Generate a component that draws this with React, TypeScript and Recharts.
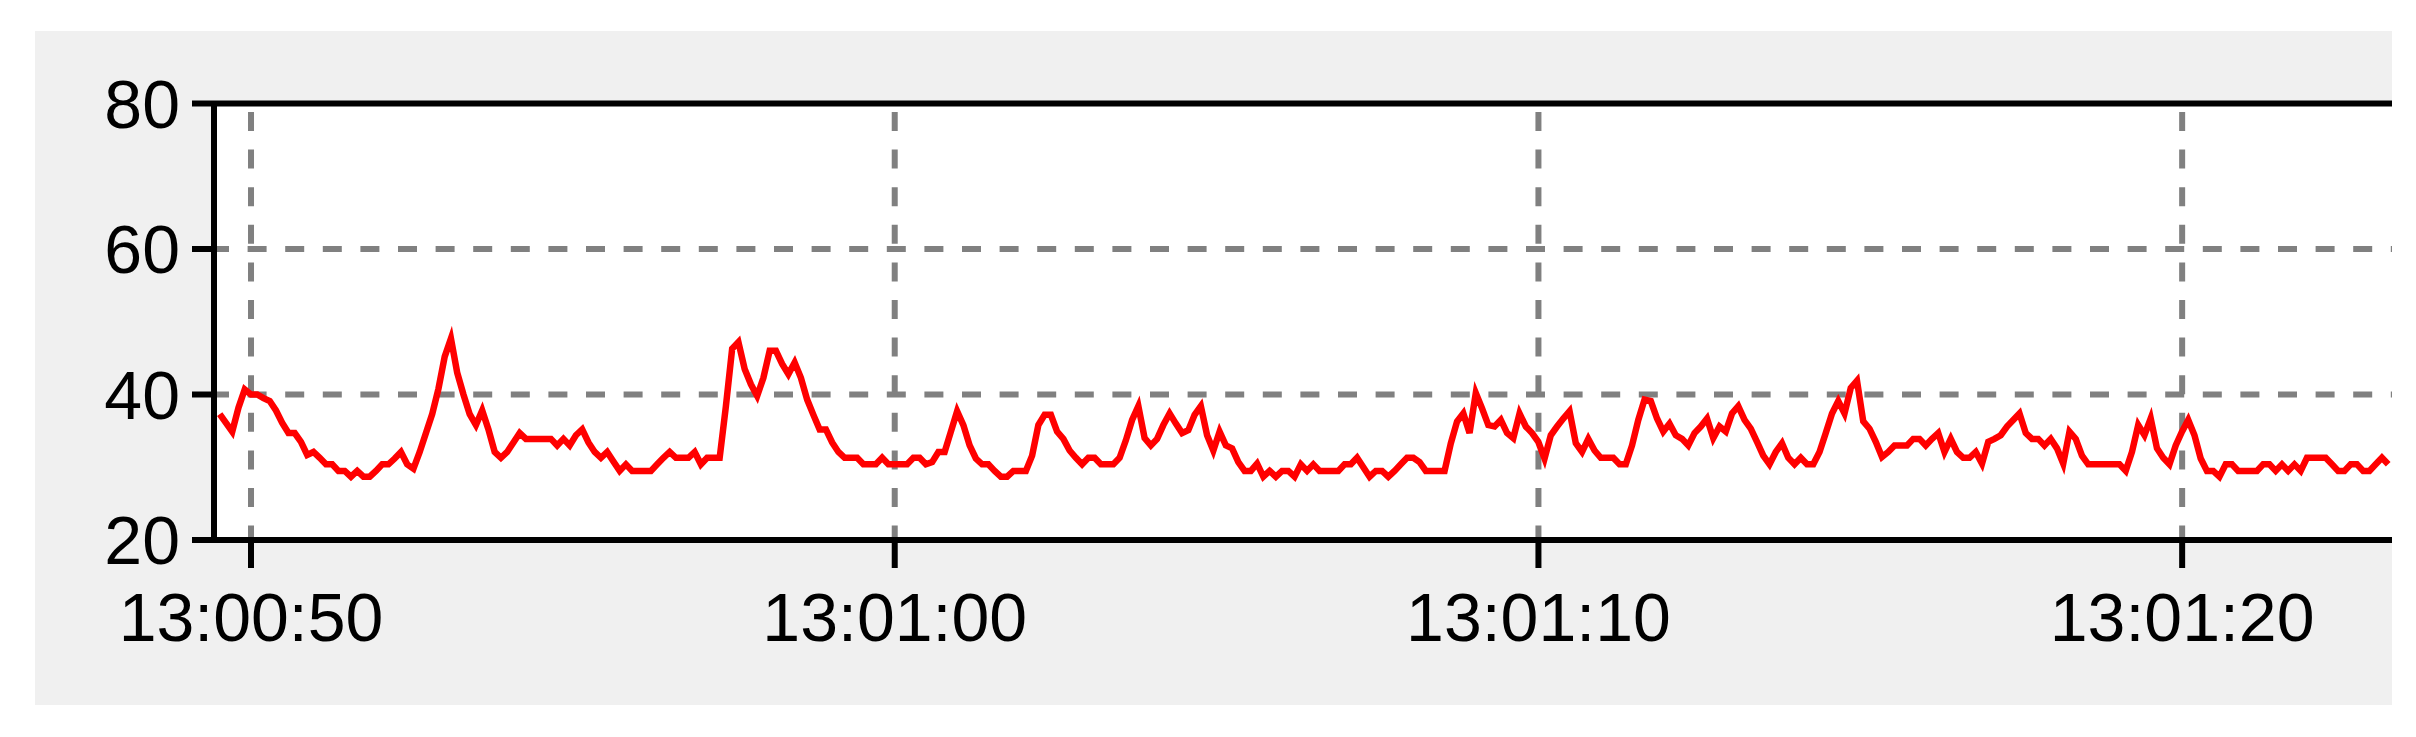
import React from 'react';
import { LineChart, Line, XAxis, YAxis, CartesianGrid, ReferenceLine } from 'recharts';

// Time of the first sample (seconds after 13:00:50) and the sampling step (s)
const START_SECONDS = -0.486;
const SAMPLE_STEP = 0.09708;

const segment1 = [
  37.3, 36.1, 34.9, 38.2, 40.7, 40.0, 40.0, 39.5, 39.1, 37.8,
  36.1, 34.7, 34.7, 33.5, 31.7, 32.1, 31.3, 30.4, 30.4, 29.5,
  29.5, 28.7, 29.5, 28.7, 28.7, 29.5, 30.4, 30.4, 31.2, 32.1,
  30.4, 29.8, 32.1, 34.7, 37.3, 40.8, 45.2, 47.7, 43.0, 40.0,
  37.3, 35.8, 37.8, 35.2, 32.1, 31.3, 32.1, 33.4, 34.7, 33.9,
  33.9, 33.9, 33.9, 33.9, 33.0, 33.9, 33.0, 34.4,
];
const segment2 = [
  35.2, 33.4, 32.1, 31.3, 32.1, 30.8, 29.5, 30.4, 29.5, 29.5,
  29.5, 29.5, 30.4, 31.3, 32.1, 31.3, 31.3, 31.3, 32.1, 30.4,
  31.3, 31.3, 31.3, 38.4, 46.3, 47.2, 43.5, 41.4, 39.8, 42.3,
  46.0, 46.0, 44.2, 42.8, 44.4, 42.3, 39.3, 37.2, 35.2, 35.2,
  33.4, 32.1, 31.3, 31.3, 31.3, 30.4, 30.4, 30.4, 31.3, 30.4,
  30.4, 30.4, 30.4, 31.3, 31.3, 30.4, 30.7, 32.1, 32.1,
];
const segment3 = [
  34.9, 37.7, 35.8, 33.0, 31.2, 30.4, 30.4, 29.5, 28.7, 28.7,
  29.5, 29.5, 29.5, 31.6, 35.8, 37.2, 37.2, 34.9, 33.9, 32.3,
  31.3, 30.4, 31.3, 31.3, 30.4, 30.4, 30.4, 31.3, 33.7, 36.5,
  38.4, 34.0, 33.0, 33.9, 35.8, 37.4, 36.0, 34.7, 35.1, 37.2,
  38.4, 34.4, 32.3, 34.9, 33.0, 32.6, 30.7, 29.5, 29.5, 30.5,
  28.7, 29.5, 28.7, 29.5, 29.5, 28.7, 30.4, 29.5,
];
const segment4 = [
  30.4, 29.5, 29.5, 29.5, 29.5, 30.4, 30.4, 31.3, 30.0, 28.7,
  29.5, 29.5, 28.7, 29.5, 30.4, 31.3, 31.3, 30.7, 29.5, 29.5,
  29.5, 29.5, 33.3, 36.3, 37.4, 34.7, 40.2, 38.1, 35.8, 35.6,
  36.5, 34.7, 34.0, 37.4, 35.6, 34.7, 33.5, 31.2, 34.4, 35.6,
  36.7, 37.7, 33.3, 32.1, 33.9, 32.3, 31.3, 31.3, 31.3, 30.4,
  30.4, 33.0, 36.5, 39.3, 39.1, 36.7, 34.9, 36.0, 34.4,
];
const segment5 = [
  33.9, 33.0, 34.7, 35.6, 36.7, 34.0, 35.6, 34.9, 37.4, 38.4,
  36.5, 35.3, 33.5, 31.6, 30.4, 32.1, 33.3, 31.3, 30.4, 31.3,
  30.4, 30.4, 32.1, 34.7, 37.4, 39.1, 37.4, 40.9, 41.9, 36.3,
  35.3, 33.5, 31.4, 32.1, 33.0, 33.0, 33.0, 33.9, 33.9, 33.0,
  33.9, 34.7, 32.1, 33.9, 32.1, 31.3, 31.3, 32.1, 30.5, 33.5,
  33.9, 34.4, 35.6, 36.5, 37.4, 34.7, 33.9,
];
const segment6 = [
  33.9, 33.0, 33.9, 32.6, 30.5, 34.9, 33.9, 31.6, 30.4, 30.4,
  30.4, 30.4, 30.4, 30.4, 29.5, 32.1, 35.8, 34.4, 36.7, 32.6,
  31.3, 30.4, 33.0, 34.9, 36.5, 34.4, 31.2, 29.5, 29.5, 28.7,
  30.4, 30.4, 29.5, 29.5, 29.5, 29.5, 30.4, 30.4, 29.5, 30.4,
  29.5, 30.4, 29.5, 31.3, 31.3, 31.3, 31.3, 30.4, 29.5, 29.5,
  30.4, 30.4, 29.5, 29.5, 30.4, 31.3, 30.4,
];

const xTicks = [0, 10, 20, 30];
const xTickLabels = ['13:00:50', '13:01:00', '13:01:10', '13:01:20'];
const yTicks = [20, 40, 60, 80];
const xDomain: [number, number] = [-0.575, 33.26];
const yDomain: [number, number] = [20, 80];

const allValues = [...segment1, ...segment2, ...segment3, ...segment4, ...segment5, ...segment6];
const data = allValues.map((v, i) => ({ t: START_SECONDS + i * SAMPLE_STEP, v }));

const FONT = '"Liberation Sans", Arial, sans-serif';
const CHART_W = 2357;
const CHART_H = 674;
const PLOT_LEFT = 179;

const hLine = (p: any) => {
  if (p.y1 < 75 || p.y1 > 505) return null;
  return (
    <line
      key={p.key}
      x1={p.x1}
      y1={p.y1}
      x2={p.x2}
      y2={p.y2}
      stroke="#808080"
      strokeWidth={6}
      strokeDasharray="19 18.6"
      strokeDashoffset={4}
      fill="none"
    />
  );
};
const vLine = (p: any) => {
  if (p.x1 > CHART_W - 5 || p.x1 < PLOT_LEFT + 5) return null;
  return (
    <line
      key={p.key}
      x1={p.x1}
      y1={p.y1}
      x2={p.x2}
      y2={p.y2}
      stroke="#808080"
      strokeWidth={6}
      strokeDasharray="19 18.6"
      strokeDashoffset={29.1}
      fill="none"
    />
  );
};

export default function App() {
  return (
    <div style={{ paddingLeft: 27, paddingTop: 23 }}>
      <div style={{ width: CHART_W, height: CHART_H, background: '#f0f0f0' }}>
        <LineChart
          width={CHART_W}
          height={CHART_H}
          data={data}
          margin={{ top: 72.5, right: 0, bottom: 0, left: 0 }}
        >
          <CartesianGrid fill="#ffffff" horizontal={hLine} vertical={vLine} />
          <XAxis
            type="number"
            dataKey="t"
            domain={xDomain}
            allowDataOverflow
            ticks={xTicks}
            interval={0}
            height={165}
            tickFormatter={(t: number) => xTickLabels[xTicks.indexOf(t)] ?? ''}
            axisLine={{ stroke: '#000', strokeWidth: 6 }}
            tickLine={{ stroke: '#000', strokeWidth: 6 }}
            tickSize={28}
            tickMargin={25}
            tick={{ fill: '#000', fontSize: 68, fontFamily: FONT }}
          />
          <YAxis
            type="number"
            domain={yDomain}
            allowDataOverflow
            ticks={yTicks}
            interval={0}
            width={PLOT_LEFT}
            axisLine={{ stroke: '#000', strokeWidth: 6 }}
            tickLine={{ stroke: '#000', strokeWidth: 6 }}
            tickSize={22}
            tickMargin={12}
            tick={{ fill: '#000', fontSize: 68, fontFamily: FONT }}
          />
          <ReferenceLine y={80} stroke="#000" strokeWidth={6} />
          <Line
            type="linear"
            dataKey="v"
            stroke="#ff0000"
            strokeWidth={6.5}
            dot={false}
            activeDot={false}
            isAnimationActive={false}
          />
        </LineChart>
      </div>
    </div>
  );
}
